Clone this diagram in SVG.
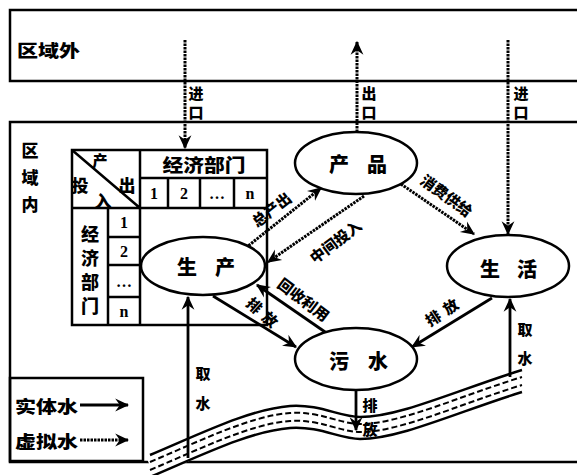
<svg xmlns="http://www.w3.org/2000/svg" width="577" height="475" viewBox="0 0 577 475">
<style>
.ln{fill:none;stroke:#000;stroke-width:2.5}
.sol{fill:none;stroke:#000;stroke-width:2.8;marker-end:url(#ah)}
.dot{fill:none;stroke:#000;stroke-width:3;stroke-dasharray:2.5 1;marker-end:url(#ah)}
.el{fill:#fff;stroke:#000;stroke-width:2.5}
.t{font-family:"Noto Sans CJK SC","Noto Sans CJK JP",sans-serif;font-weight:900;fill:#000;text-anchor:middle;dominant-baseline:central}
.n{font-family:"Liberation Serif",serif;font-weight:bold;font-size:16px;fill:#000;text-anchor:middle;dominant-baseline:central}
.f15{font-size:15px}.f16{font-size:17px}.f18{font-size:18px}.f19{font-size:20px}
</style>
<defs>
<marker id="ah" viewBox="0 0 12 12" refX="11" refY="6" markerWidth="14" markerHeight="14" markerUnits="userSpaceOnUse" orient="auto">
<path d="M0,0.5 L12,6 L0,11.5 L4,6 z" fill="#000"/>
</marker>
</defs>
<rect width="577" height="475" fill="#fff"/>
<g id="frames">
<path class="ln" d="M577,10 H10 V81 H577"/>
<path class="ln" d="M577,122 H10 V462 H577"/>
<text class="t f16" x="48.5" y="49" textLength="63" lengthAdjust="spacingAndGlyphs">区域外</text>
<text class="t f16" x="30" y="149">区</text>
<text class="t f16" x="30" y="176">域</text>
<text class="t f16" x="30" y="203">内</text>
</g>
<g id="legend">
<rect x="10" y="378" width="133" height="83" class="ln"/>
<text class="t f16" x="46.5" y="405" textLength="63" lengthAdjust="spacingAndGlyphs">实体水</text>
<text class="t f16" x="46.5" y="440" textLength="63" lengthAdjust="spacingAndGlyphs">虚拟水</text>
<line class="sol" x1="80" y1="405" x2="128" y2="405"/>
<line class="dot" x1="80" y1="440" x2="128" y2="440"/>
</g>
<g id="river">
<path d="M150,466 C200,445 250,420 290,417 C320,415 340,428 360,428 C400,428 460,400 522,381" fill="none" stroke="#fff" stroke-width="22"/>
<g fill="none" stroke="#000">
<path transform="translate(0,-11)" stroke-width="2.5" d="M150,466 C200,445 250,420 290,417 C320,415 340,428 360,428 C400,428 460,400 522,381"/>
<path transform="translate(0,11)" stroke-width="2.5" d="M150,466 C200,445 250,420 290,417 C320,415 340,428 360,428 C400,428 460,400 522,381"/>
<path transform="translate(0,-4)" stroke-width="2" stroke-dasharray="6 3" d="M150,466 C200,445 250,420 290,417 C320,415 340,428 360,428 C400,428 460,400 522,381"/>
<path transform="translate(0,4)" stroke-width="2" stroke-dasharray="6 3" d="M150,466 C200,445 250,420 290,417 C320,415 340,428 360,428 C400,428 460,400 522,381"/>
</g>
</g>
<g id="table">
<rect x="72" y="150" width="195" height="175" class="ln" fill="#fff"/>
<path class="ln" d="M72,150 L140,208 M140,150 V325 M140,178 H267 M72,208 H267 M108,208 V325 M108,237 H140 M108,265 H140 M108,297 H140 M168,178 V208 M200,178 V208 M234,178 V208"/>
<text class="t f15" x="100" y="159">产</text>
<text class="t f16" x="80" y="184">投</text>
<text class="t f16" x="127" y="184">出</text>
<text class="t f16" x="103" y="200">入</text>
<text class="t f18" x="204" y="164" textLength="83" lengthAdjust="spacingAndGlyphs">经济部门</text>
<text class="t f18" x="90" y="233">经</text>
<text class="t f18" x="90" y="257">济</text>
<text class="t f18" x="90" y="281">部</text>
<text class="t f18" x="90" y="305">门</text>
<text class="n" x="154" y="193">1</text>
<text class="n" x="184" y="193">2</text>
<text class="n" x="217" y="193">…</text>
<text class="n" x="250" y="193">n</text>
<text class="n" x="124" y="222">1</text>
<text class="n" x="124" y="251">2</text>
<text class="n" x="124" y="281">…</text>
<text class="n" x="124" y="311">n</text>
</g>
<g id="connectors">
<line class="dot" x1="185" y1="40" x2="185" y2="148"/>
<line class="dot" x1="357" y1="132" x2="357" y2="42"/>
<line class="dot" x1="508" y1="40" x2="508" y2="234"/>
<line class="dot" x1="243" y1="250" x2="321" y2="188"/>
<line class="dot" x1="364" y1="196" x2="268" y2="262"/>
<line class="dot" x1="398" y1="182" x2="474" y2="234"/>
<line class="sol" x1="328" y1="334" x2="257" y2="285"/>
<line class="sol" x1="213" y1="296" x2="296" y2="347"/>
<line class="sol" x1="492" y1="298" x2="412" y2="347"/>
<line class="sol" x1="188" y1="458" x2="188" y2="297"/>
<line class="sol" x1="510" y1="377" x2="510" y2="299"/>
<line class="sol" x1="356" y1="390" x2="356" y2="430"/>
<text class="t f15" x="196" y="92">进</text>
<text class="t f15" x="196" y="111">口</text>
<text class="t f15" x="369" y="92">出</text>
<text class="t f15" x="369" y="111">口</text>
<text class="t f15" x="521" y="92">进</text>
<text class="t f15" x="521" y="111">口</text>
<text class="t f15" transform="translate(271,209) rotate(-38)">总产出</text>
<text class="t f15" transform="translate(335,241) rotate(-37)">中间投入</text>
<text class="t f15" transform="translate(447,195) rotate(36)">消费供给</text>
<text class="t f15" transform="translate(304,299) rotate(37)">回收利用</text>
<text class="t f15" transform="translate(265,314) rotate(42)" letter-spacing="6">排放</text>
<text class="t f15" transform="translate(444,310) rotate(-33)" letter-spacing="6">排放</text>
<text class="t f15" x="203" y="372">取</text>
<text class="t f15" x="203" y="402">水</text>
<text class="t f15" x="525" y="328">取</text>
<text class="t f15" x="525" y="357">水</text>
<text class="t f15" x="370" y="404">排</text>
<text class="t f15" x="370" y="428">放</text>
</g>
<g id="node-production">
<ellipse class="el" cx="203" cy="266" rx="62" ry="29"/>
<text class="t f19" x="187" y="266">生</text>
<text class="t f19" x="225" y="266">产</text>
</g>
<g id="node-product">
<ellipse class="el" cx="356" cy="163" rx="61" ry="31"/>
<text class="t f19" x="339" y="163">产</text>
<text class="t f19" x="377" y="163">品</text>
</g>
<g id="node-life">
<ellipse class="el" cx="508" cy="266" rx="61" ry="31"/>
<text class="t f19" x="490" y="268">生</text>
<text class="t f19" x="527" y="268">活</text>
</g>
<g id="node-sewage">
<ellipse class="el" cx="356" cy="359" rx="61" ry="31"/>
<text class="t f19" x="339" y="360">污</text>
<text class="t f19" x="378" y="360">水</text>
</g>
</svg>
